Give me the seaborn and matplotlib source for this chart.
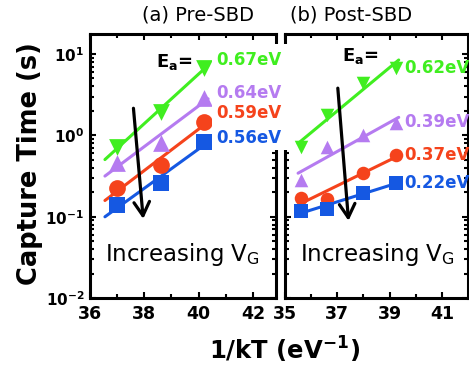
import numpy as np
import pandas as pd
import matplotlib
matplotlib.use("Agg")
import matplotlib.pyplot as plt
from matplotlib.ticker import LogLocator, NullFormatter, FixedLocator
from matplotlib.patches import Rectangle
import seaborn as sns

# ---------------- data ----------------
xa = [37.0, 38.6, 40.2]
a_green = [0.72, 1.95, 6.8]
a_purple = [0.46, 0.81, 2.9]
a_red = [0.226, 0.434, 1.47]
a_blue = [0.14, 0.26, 0.83]
a_labels = ["0.67eV", "0.64eV", "0.59eV", "0.56eV"]

xb = [35.6, 36.6, 38.0, 39.25]
b_green = [0.72, 1.79, 4.4, 6.8]
b_purple = [0.284, 0.72, 1.0, 1.43]
b_red = [0.17, 0.166, 0.346, 0.575]
b_blue = [0.118, 0.125, 0.196, 0.26]
b_labels = ["0.62eV", "0.39eV", "0.37eV", "0.22eV"]

titles = ["(a) Pre-SBD", "(b) Post-SBD"]
a_xticks = [36, 38, 40, 42]
b_xticks = [35, 37, 39, 41]
yticks = [0.01, 0.1, 1, 10]
ytick_labels = [r"$\mathbf{10^{-2}}$", r"$\mathbf{10^{-1}}$", r"$\mathbf{10^{0}}$", r"$\mathbf{10^{1}}$"]

colors = ["#40EE20", "#B57BF0", "#F5431C", "#1558E2"]
markers = ["v", "^", "o", "s"]

sns.set_style("ticks")
plt.rcParams["font.family"] = ["DejaVu Sans"]
for k in ["text.color", "axes.labelcolor", "xtick.color", "ytick.color", "axes.edgecolor"]:
    plt.rcParams[k] = "black"

fig = plt.figure(figsize=(4.69, 3.68), dpi=100)
W, H = 469.0, 368.0
axA = fig.add_axes([90 / W, 1 - 298 / H, 186 / W, 264 / H])
axB = fig.add_axes([285 / W, 1 - 298 / H, 183 / W, 264 / H])


def draw_panel(ax, x, series, msize, xext):
    for ys, c, m in zip(series, colors, markers):
        df = pd.DataFrame({"x": x, "y": ys})
        k, b = np.polyfit(np.array(x), np.log10(np.array(ys)), 1)
        xf = np.array([x[0] - xext[0], x[-1] + xext[1]])
        fit = pd.DataFrame({"x": xf, "y": 10 ** (k * xf + b)})
        sns.lineplot(data=fit, x="x", y="y", ax=ax, color=c, lw=2.2, zorder=2)
        sns.scatterplot(data=df, x="x", y="y", ax=ax, color=c, marker=m,
                        s=msize, linewidth=0, zorder=3)


draw_panel(axA, xa, [a_green, a_purple, a_red, a_blue], 145, (0.45, 0.15))
draw_panel(axB, xb, [b_green, b_purple, b_red, b_blue], 95, (0.1, 0.1))

for ax, xl, maj, mnr in [(axA, (36, 42.85), a_xticks, [37, 39, 41]),
                         (axB, (35, 42), b_xticks, [36, 38, 40])]:
    ax.set_yscale("log")
    ax.set_ylim(0.01, 17.6)
    ax.set_xlim(*xl)
    ax.set_xlabel("")
    ax.set_ylabel("")
    ax.set_xticks(maj)
    ax.set_xticklabels([str(t) for t in maj], fontsize=12.5, fontweight="bold")
    ax.xaxis.set_minor_locator(FixedLocator(mnr))
    ax.set_yticks(yticks)
    ax.set_yticklabels(ytick_labels, fontsize=11)
    ax.yaxis.set_minor_locator(LogLocator(base=10, subs=np.arange(2, 10), numticks=20))
    ax.yaxis.set_minor_formatter(NullFormatter())
    ax.tick_params(which="both", direction="in", top=True, right=True, width=1.5, color="black")
    ax.tick_params(which="major", length=4.5)
    ax.tick_params(axis="x", which="major", pad=5)
    ax.tick_params(axis="y", which="major", pad=4)
    ax.tick_params(which="minor", length=2.8)
    for sp in ax.spines.values():
        sp.set_visible(True)
        sp.set_linewidth(2.2)
        sp.set_color("black")
    ax.set_facecolor("white")

axB.tick_params(labelleft=False)

# arrows
arrow = dict(arrowstyle="->,head_length=0.7,head_width=0.4", lw=2.3, color="black",
             shrinkA=0, shrinkB=0, mutation_scale=14)
axA.annotate("", xy=(37.96, 0.094), xytext=(37.6, 2.15), arrowprops=arrow)
axB.annotate("", xy=(37.43, 0.089), xytext=(37.02, 3.8), arrowprops=arrow)

# Increasing V_G
axA.text(36.55, 0.034, r"Increasing V$_\mathregular{G}$", fontsize=16.5, va="center", ha="left")
axB.text(35.57, 0.034, r"Increasing V$_\mathregular{G}$", fontsize=16.5, va="center", ha="left")

# white box hiding spines behind panel (a) labels
fig.patches.append(Rectangle((212 / W, 1 - 150 / H), 80 / W, 106 / H,
                             transform=fig.transFigure, facecolor="white",
                             edgecolor="none", zorder=5))

for lab, c, yp in zip(a_labels, colors, [60, 93, 113, 138]):
    fig.text(216 / W, 1 - yp / H, lab, color=c, fontsize=12, fontweight="bold",
             va="center", ha="left", zorder=6)
for lab, c, yp in zip(b_labels, colors, [68, 122, 155, 183]):
    fig.text(404 / W, 1 - yp / H, lab, color=c, fontsize=12, fontweight="bold",
             va="center", ha="left", zorder=6)

fig.text(156 / W, 1 - 62 / H, r"E$_\mathregular{a}$=", fontsize=13, fontweight="bold",
         va="center", ha="left", zorder=6)
fig.text(342 / W, 1 - 56 / H, r"E$_\mathregular{a}$=", fontsize=13, fontweight="bold",
         va="center", ha="left", zorder=6)

# titles
fig.text(142 / W, 1 - 15 / H, titles[0], fontsize=14, va="center", ha="left")
fig.text(290 / W, 1 - 15 / H, titles[1], fontsize=14, va="center", ha="left")

# axis labels
fig.text(285 / W, 1 - 350 / H, r"1/kT (eV$^\mathbf{-1}$)", fontsize=17.5, fontweight="bold",
         va="center", ha="center")
fig.text(30 / W, 1 - 164 / H, "Capture Time (s)", fontsize=18.5, fontweight="bold",
         va="center", ha="center", rotation=90)

fig.savefig("out.png", dpi=100)
